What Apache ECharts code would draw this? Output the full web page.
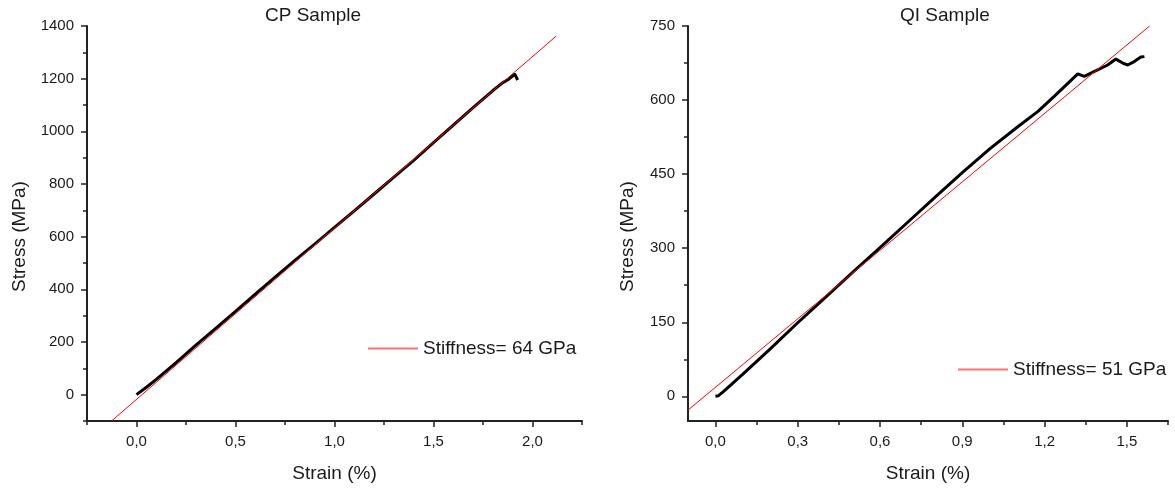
<!DOCTYPE html>
<html>
<head>
<meta charset="utf-8">
<script src="https://cdn.jsdelivr.net/npm/echarts@6/dist/echarts.min.js"></script>
<style>
html,body{margin:0;padding:0;background:#fff;}
#chart{width:1175px;height:488px;}
</style>
</head>
<body>
<div id="chart"></div>
<script>
// ---- CP sample data ----
const cpStrain = [0, 0.05, 0.1, 0.2, 0.3, 0.4, 0.5, 0.6, 0.7, 0.8, 0.9, 1.0, 1.1, 1.2, 1.3, 1.4, 1.5, 1.6, 1.7, 1.8, 1.85, 1.88, 1.9, 1.91, 1.915, 1.925];
const cpStress = [0, 28, 58, 122, 188, 252, 316, 382, 446, 510, 572, 635, 698, 762, 826, 890, 957, 1024, 1090, 1155, 1185, 1198, 1210, 1218, 1212, 1195];
const cpFitStrain = [-0.126, 2.12];
const cpFitStress = [-100, 1362];
const cpXTicks = [0, 0.5, 1.0, 1.5, 2.0];
const cpXMinor = [-0.25, 0.25, 0.75, 1.25, 1.75, 2.25];
const cpYTicks = [0, 200, 400, 600, 800, 1000, 1200, 1400];
const cpYMinor = [-100, 100, 300, 500, 700, 900, 1100, 1300];

// ---- QI sample data ----
const qiStrain = [0, 0.01, 0.03, 0.1, 0.2, 0.3, 0.4, 0.5, 0.6, 0.7, 0.8, 0.9, 1.0, 1.1, 1.176, 1.236, 1.321, 1.345, 1.382, 1.43, 1.46, 1.485, 1.503, 1.527, 1.551, 1.564];
const qiStress = [0, 1, 10, 45, 96, 149, 200, 251, 301, 352, 403, 453, 501, 545, 577, 608, 653, 648, 658, 671, 683, 675, 671, 678, 687, 688];
const qiFitStrain = [-0.1, 1.583];
const qiFitStress = [-28, 750];
const qiXTicks = [0, 0.3, 0.6, 0.9, 1.2, 1.5];
const qiXMinor = [0.15, 0.45, 0.75, 1.05, 1.35, 1.65];
const qiYTicks = [0, 150, 300, 450, 600, 750];
const qiYMinor = [75, 225, 375, 525, 675];

const cpFitName = 'Stiffness= 64 GPa';
const qiFitName = 'Stiffness= 51 GPa';

const FONT = "'Liberation Sans', Arial, sans-serif";
const TXT = '#1a1a1a';
const AX = '#222';

function zip(a, b) { return a.map((v, i) => [v, b[i]]); }
function comma(v) { return v.toFixed(1).replace('.', ','); }
function plain(v) { return String(Math.round(v)); }

function mainX(grid, min, max, ticks, name, gap) {
  return {
    type: 'value', gridIndex: grid, position: 'bottom', min: min, max: max,
    name: name, nameLocation: 'middle', nameGap: gap,
    nameTextStyle: { fontFamily: FONT, fontSize: 19, color: TXT },
    axisLine: { show: true, onZero: false, lineStyle: { color: AX, width: 2 } },
    axisTick: { show: true, length: 6, customValues: ticks, lineStyle: { color: AX, width: 1.5 } },
    axisLabel: { show: true, customValues: ticks, margin: 13, fontFamily: FONT, fontSize: 15, color: TXT, formatter: comma },
    splitLine: { show: false }
  };
}
function minorX(grid, min, max, ticks) {
  return {
    type: 'value', gridIndex: grid, position: 'bottom', offset: 0, min: min, max: max,
    axisLine: { show: false, onZero: false },
    axisTick: { show: true, length: 4, customValues: ticks, lineStyle: { color: AX, width: 1.5 } },
    axisLabel: { show: false },
    splitLine: { show: false }
  };
}
function mainY(grid, min, max, ticks, gap, pad) {
  return {
    type: 'value', gridIndex: grid, position: 'left', min: min, max: max,
    name: 'Stress (MPa)', nameLocation: 'middle', nameGap: gap,
    nameTextStyle: { fontFamily: FONT, fontSize: 19, color: TXT, padding: pad },
    axisLine: { show: true, onZero: false, lineStyle: { color: AX, width: 2 } },
    axisTick: { show: true, length: 6, customValues: ticks, lineStyle: { color: AX, width: 1.5 } },
    axisLabel: { show: true, customValues: ticks, margin: 13, fontFamily: FONT, fontSize: 15, color: TXT, formatter: plain },
    splitLine: { show: false }
  };
}
function minorY(grid, min, max, ticks) {
  return {
    type: 'value', gridIndex: grid, position: 'left', offset: 0, min: min, max: max,
    axisLine: { show: false, onZero: false },
    axisTick: { show: true, length: 4, customValues: ticks, lineStyle: { color: AX, width: 1.5 } },
    axisLabel: { show: false },
    splitLine: { show: false }
  };
}

const chart = echarts.init(document.getElementById('chart'), null, { renderer: 'canvas' });
chart.setOption({
  backgroundColor: '#fff',
  animation: false,
  title: [
    { text: 'CP Sample', left: 265, top: 6, padding: 0, textStyle: { fontFamily: FONT, fontSize: 19, fontWeight: 'normal', color: TXT } },
    { text: 'QI Sample', left: 900, top: 6, padding: 0, textStyle: { fontFamily: FONT, fontSize: 19, fontWeight: 'normal', color: TXT } }
  ],
  legend: [
    { data: [{ name: cpFitName, icon: 'rect', itemStyle: { color: '#ff6e6e' } }], left: 368, top: 339, padding: 0,
      itemWidth: 50, itemHeight: 2, textStyle: { fontFamily: FONT, fontSize: 19, color: TXT } },
    { data: [{ name: qiFitName, icon: 'rect', itemStyle: { color: '#ff6e6e' } }], left: 958, top: 360, padding: 0,
      itemWidth: 50, itemHeight: 2, textStyle: { fontFamily: FONT, fontSize: 19, color: TXT } }
  ],
  grid: [
    { left: 87, top: 26, right: 593, bottom: 64 },
    { left: 688, top: 26, right: 7, bottom: 64 }
  ],
  xAxis: [
    mainX(0, -0.25, 2.25, cpXTicks, 'Strain (%)', 43),
    minorX(0, -0.25, 2.25, cpXMinor),
    mainX(1, -0.1, 1.65, qiXTicks, 'Strain (%)', 43),
    minorX(1, -0.1, 1.65, qiXMinor)
  ],
  yAxis: [
    mainY(0, -100, 1400, cpYTicks, 58, [0, 26, 0, 0]),
    minorY(0, -100, 1400, cpYMinor),
    mainY(1, -50, 750, qiYTicks, 51, [0, 26, 0, 0]),
    minorY(1, -50, 750, qiYMinor)
  ],
  series: [
    { name: 'CP data', type: 'line', xAxisIndex: 0, yAxisIndex: 0, showSymbol: false, symbol: 'none',
      data: zip(cpStrain, cpStress), lineStyle: { color: '#000', width: 3 }, itemStyle: { color: '#000' } },
    { name: cpFitName, type: 'line', xAxisIndex: 0, yAxisIndex: 0, showSymbol: false, symbol: 'none',
      data: zip(cpFitStrain, cpFitStress), lineStyle: { color: '#ff0000', width: 1 }, itemStyle: { color: '#ff0000' } },
    { name: 'QI data', type: 'line', xAxisIndex: 2, yAxisIndex: 2, showSymbol: false, symbol: 'none',
      data: zip(qiStrain, qiStress), lineStyle: { color: '#000', width: 3 }, itemStyle: { color: '#000' } },
    { name: qiFitName, type: 'line', xAxisIndex: 2, yAxisIndex: 2, showSymbol: false, symbol: 'none',
      data: zip(qiFitStrain, qiFitStress), lineStyle: { color: '#ff0000', width: 1 }, itemStyle: { color: '#ff0000' } }
  ]
});
</script>
</body>
</html>
